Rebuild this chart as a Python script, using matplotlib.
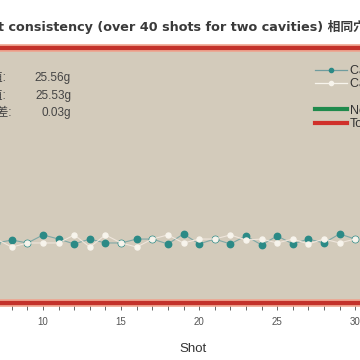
import numpy as np
import matplotlib.pyplot as plt
from matplotlib.lines import Line2D

# ── DATA ──────────────────────────────────────────────────────
shots = [7, 8, 9, 10, 11, 12, 13, 14, 15, 16, 17, 18, 19, 20, 21, 22, 23, 24, 25, 26, 27, 28, 29, 30]
cavity1 = [25.506, 25.521, 25.506, 25.547, 25.526, 25.501, 25.526, 25.506, 25.506, 25.526, 25.526, 25.501,
           25.552, 25.501, 25.526, 25.501, 25.542, 25.496, 25.542, 25.501, 25.526, 25.506, 25.552, 25.526]
cavity2 = [25.526, 25.485, 25.506, 25.506, 25.506, 25.547, 25.485, 25.547, 25.506, 25.485, 25.526, 25.547,
           25.506, 25.526, 25.526, 25.547, 25.521, 25.526, 25.506, 25.526, 25.501, 25.526, 25.506, 25.526]
tol_upper = 26.5
tol_lower = 25.2
stat_labels = ['穴1平均值:', '穴2平均值:', '重量差:']
stat_values = ['25.56g', '25.53g', '0.03g']
title = 't consistency (over 40 shots for two cavities) 相同穴位重量一致性'
legend_labels = ['Cavity 1', 'Cavity 2', 'Nominal', 'Tolerance']

# ── STYLE ─────────────────────────────────────────────────────
plt.rcParams['font.family'] = ['Liberation Sans', 'Noto Sans CJK SC']
TEAL = '#2b8a86'
WHITE = '#f7f4ec'
BEIGE = '#d3cbbb'
RED = '#c3322b'

fig = plt.figure(figsize=(3.6, 3.6), dpi=100, facecolor='white')
ax = fig.add_axes([0, 1 - 303 / 360, 1, 255 / 360])
ax.set_facecolor(BEIGE)

# ── SERIES ────────────────────────────────────────────────────
ax.plot(shots, cavity1, color='#7fa8a6', lw=0.8, marker='o', ms=4.6,
        mfc=TEAL, mec=TEAL, zorder=3)
ax.plot(shots, cavity2, color='#efe6dc', lw=0.8, marker='o', ms=3.6,
        mfc=WHITE, mec=WHITE, zorder=4)

# tolerance lines (drawn at the axis limits)
for t in [tol_upper, tol_lower]:
    ax.axhline(t, color='#efa48f', lw=5.5, clip_on=False, zorder=5)
    ax.axhline(t, color=RED, lw=3, clip_on=False, zorder=6)

ax.set_xlim(7.24, 30.31)
ax.set_ylim(tol_lower, tol_upper)

for s in ax.spines.values():
    s.set_visible(False)
ax.set_yticks([])
ax.set_xticks(np.arange(10, 35, 5))
ax.set_xticks(np.arange(8, 31, 1), minor=True)
ax.tick_params(axis='x', which='both', length=5, width=0.7, color='#666666',
               direction='out', pad=5, labelsize=7, labelcolor='#555555')
ax.set_xlabel('Shot', fontsize=9.5, color='#333333')
ax.xaxis.set_label_coords(193 / 360, -0.155)

# ── TITLE & STATS ─────────────────────────────────────────────
fig.text(-2 / 360, 1 - 27 / 360, title, fontsize=9.2, fontweight='bold',
         color='#3a3a3a', ha='left', va='center',
         family=['DejaVu Sans', 'Noto Sans CJK SC'])

stat_y = [78, 96, 113]
lab_x = [6, 6, 12]
for lab, val, y, lx in zip(stat_labels, stat_values, stat_y, lab_x):
    fig.text(lx / 360, 1 - y / 360, lab, fontsize=8.5, color='#444444', ha='right', va='center')
    fig.text(71 / 360, 1 - y / 360, val, fontsize=8.5, color='#444444', ha='right', va='center')

# ── LEGEND ────────────────────────────────────────────────────
handles = [
    Line2D([], [], color='#6f9c9e', lw=0.9, marker='o', ms=3, mfc=TEAL, mec=TEAL),
    Line2D([], [], color=WHITE, lw=0.9, marker='o', ms=3, mfc=WHITE, mec=WHITE),
    Line2D([], [], color='none'),
    Line2D([], [], color='#1f8a4c', lw=3),
    Line2D([], [], color='#d0302a', lw=3),
]
labels = [legend_labels[0], legend_labels[1], '', legend_labels[2], legend_labels[3]]
fig.legend(handles, labels, loc='upper left', bbox_to_anchor=(315 / 360, 1 - 65 / 360),
           frameon=False, fontsize=9, handlelength=2.55, handletextpad=0.25,
           labelspacing=0.1, borderaxespad=0, borderpad=0, labelcolor='#333333')

fig.savefig('out.png', dpi=100, facecolor='white')
